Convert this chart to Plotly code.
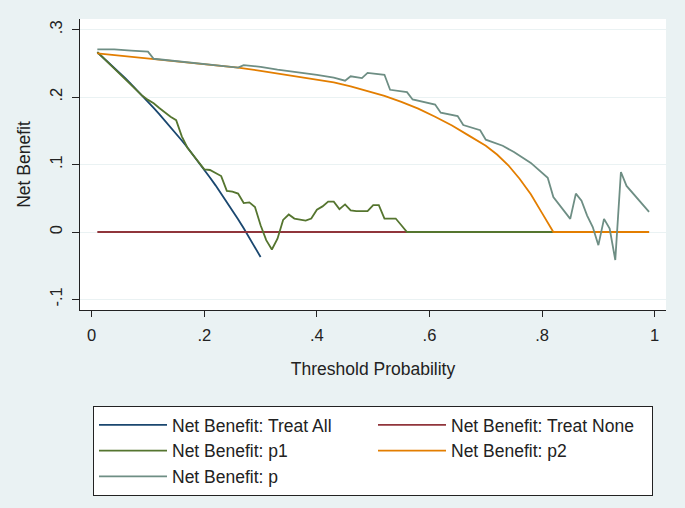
import plotly.graph_objects as go

# ---- data ----
thr_all = [0.01, 0.02, 0.03, 0.04, 0.05, 0.06, 0.07, 0.08, 0.09, 0.10,
           0.11, 0.12, 0.13, 0.14, 0.15, 0.16, 0.17, 0.18, 0.19, 0.20,
           0.21, 0.22, 0.23, 0.24, 0.25, 0.26, 0.27, 0.28, 0.29, 0.30]
nb_treat_all = [0.2667, 0.2592, 0.2515, 0.2437, 0.2358, 0.2277, 0.2194, 0.2109, 0.2022, 0.1933,
                0.1843, 0.1750, 0.1655, 0.1558, 0.1459, 0.1357, 0.1253, 0.1146, 0.1037, 0.0925,
                0.0810, 0.0692, 0.0571, 0.0447, 0.0320, 0.0189, 0.0055, -0.0083, -0.0225, -0.0371]

thr_none = [0.01, 0.99]
nb_treat_none = [0.0, 0.0]

thr_p1 = [0.01, 0.02, 0.03, 0.04, 0.05, 0.06, 0.07, 0.08, 0.09, 0.10,
          0.11, 0.12, 0.13, 0.14, 0.15, 0.16, 0.17, 0.18, 0.19, 0.20,
          0.21, 0.22, 0.23, 0.24, 0.25, 0.26, 0.27, 0.28, 0.29, 0.30,
          0.31, 0.32, 0.33, 0.34, 0.35, 0.36, 0.37, 0.38, 0.39, 0.40,
          0.41, 0.42, 0.43, 0.44, 0.45, 0.46, 0.47, 0.48, 0.49, 0.50,
          0.51, 0.52, 0.53, 0.54, 0.55, 0.56, 0.99]
nb_p1 = [0.267, 0.259, 0.251, 0.243, 0.235, 0.227, 0.219, 0.210, 0.202, 0.196,
         0.191, 0.184, 0.177, 0.171, 0.166, 0.142, 0.125, 0.114, 0.103, 0.093,
         0.092, 0.088, 0.083, 0.061, 0.060, 0.057, 0.043, 0.044, 0.037, 0.010,
         -0.012, -0.026, -0.010, 0.018, 0.026, 0.020, 0.018, 0.017, 0.020, 0.033,
         0.038, 0.045, 0.045, 0.034, 0.041, 0.032, 0.031, 0.031, 0.031, 0.040,
         0.040, 0.020, 0.020, 0.020, 0.010, 0.000, 0.000]

thr_p2 = [0.01, 0.06, 0.11, 0.16, 0.21, 0.26, 0.30, 0.34, 0.37, 0.40,
          0.43, 0.46, 0.49, 0.52, 0.55, 0.58, 0.61, 0.64, 0.67, 0.70,
          0.72, 0.74, 0.76, 0.78, 0.80, 0.81, 0.82, 0.99]
nb_p2 = [0.265, 0.261, 0.257, 0.2527, 0.2483, 0.244, 0.2392, 0.234, 0.230, 0.226,
         0.222, 0.216, 0.209, 0.202, 0.193, 0.183, 0.171, 0.158, 0.143, 0.128,
         0.115, 0.099, 0.079, 0.056, 0.028, 0.014, 0.000, 0.000]

thr_p = [0.01, 0.04, 0.07, 0.10, 0.11, 0.16, 0.21, 0.26, 0.27, 0.30,
         0.33, 0.37, 0.40, 0.43, 0.45, 0.46, 0.48, 0.49, 0.52, 0.53,
         0.56, 0.57, 0.61, 0.62, 0.65, 0.66, 0.69, 0.70, 0.73, 0.75,
         0.78, 0.81, 0.82, 0.85, 0.86, 0.87, 0.88, 0.89, 0.90, 0.91,
         0.92, 0.93, 0.94, 0.95, 0.99]
nb_p = [0.271, 0.271, 0.269, 0.2675, 0.257, 0.2527, 0.2483, 0.244, 0.2475, 0.245,
        0.241, 0.237, 0.233, 0.229, 0.2245, 0.231, 0.2284, 0.236, 0.2333, 0.211,
        0.2075, 0.1966, 0.189, 0.177, 0.172, 0.1586, 0.151, 0.137, 0.128, 0.1186,
        0.1025, 0.0805, 0.052, 0.0195, 0.057, 0.0464, 0.0244, 0.0073, -0.0195, 0.0195,
        0.005, -0.0415, 0.089, 0.0684, 0.030]

x_ticks = [0, 0.2, 0.4, 0.6, 0.8, 1]
x_tick_labels = ["0", ".2", ".4", ".6", ".8", "1"]
y_ticks = [-0.1, 0, 0.1, 0.2, 0.3]
y_tick_labels = ["-.1", "0", ".1", ".2", ".3"]

series = [
    ("Net Benefit: Treat All", thr_all, nb_treat_all, "#1a476f"),
    ("Net Benefit: Treat None", thr_none, nb_treat_none, "#90353b"),
    ("Net Benefit: p1", thr_p1, nb_p1, "#55752f"),
    ("Net Benefit: p2", thr_p2, nb_p2, "#e37e00"),
    ("Net Benefit: p", thr_p, nb_p, "#6e8e84"),
]

FONT = "Liberation Sans, Arial, sans-serif"
BG = "#eaf2f3"

fig = go.Figure()
for name, xs, ys, col in series:
    fig.add_trace(go.Scatter(x=xs, y=ys, mode="lines", name=name,
                             line=dict(color=col, width=1.8)))

fig.update_layout(
    width=685, height=508,
    margin=dict(l=80, r=19, t=19, b=194),
    paper_bgcolor=BG, plot_bgcolor="white",
    font=dict(family=FONT, size=17, color="#222"),
    showlegend=True,
    legend=dict(orientation="h", x=0.5, xanchor="center", y=-0.33, yanchor="top",
                bgcolor="white", bordercolor="#222", borderwidth=1,
                entrywidth=196, entrywidthmode="pixels", itemwidth=68,
                font=dict(family=FONT, size=17.5, color="#222"),
                traceorder="normal"),
)
fig.update_xaxes(range=[-0.0208, 1.0201], tickvals=x_ticks, ticktext=x_tick_labels,
                 showgrid=False, zeroline=False, showline=True, linecolor="#222", linewidth=1,
                 ticks="outside", ticklen=6, tickcolor="#222", automargin=False,
                 ticklabelstandoff=4,
                 tickfont=dict(size=16.5),
                 title=dict(text="Threshold Probability", font=dict(size=17.5), standoff=19))
fig.update_yaxes(range=[-0.1157, 0.316], tickvals=y_ticks, ticktext=y_tick_labels,
                 showgrid=True, gridcolor=BG, gridwidth=1, zeroline=False,
                 showline=True, linecolor="#222", linewidth=1, automargin=False,
                 ticks="outside", ticklen=7, tickcolor="#222", tickangle=-90,
                 ticklabelstandoff=3,
                 tickfont=dict(size=16.5),
                 title=dict(text="Net Benefit", font=dict(size=17.5), standoff=12))

fig.write_html("out.html", config={"displayModeBar": False},
               post_script="document.body.style.margin='0px';document.body.style.padding='0px';")
